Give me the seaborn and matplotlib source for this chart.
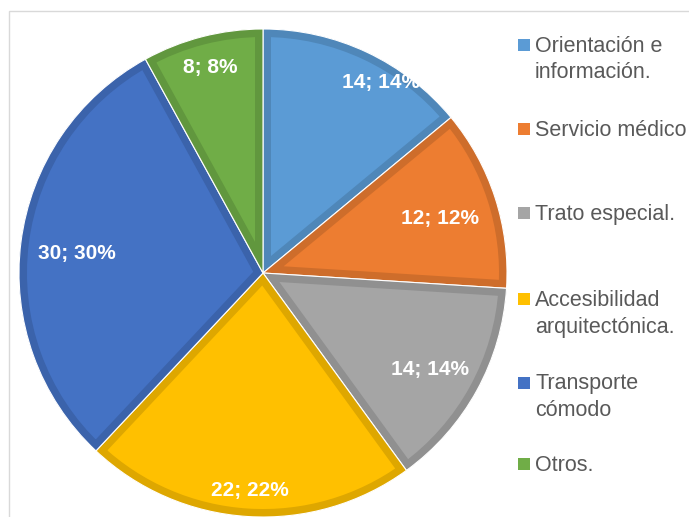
import numpy as np
import matplotlib
matplotlib.use("Agg")
import matplotlib.pyplot as plt
from matplotlib.patches import Wedge, Rectangle
from matplotlib.colors import to_rgb
import seaborn as sns

categorias = ["Orientación e\ninformación.", "Servicio médico", "Trato especial.",
              "Accesibilidad\narquitectónica.", "Transporte\ncómodo", "Otros."]
valores = [14, 12, 14, 22, 30, 8]
porcentajes = [14, 12, 14, 22, 30, 8]
colores = ["#5B9BD5", "#ED7D31", "#A5A5A5", "#FFC000", "#4472C4", "#70AD47"]

# etiquetas: fraccion del radio y desvio angular (grados) respecto al centro de la porcion
dist_etiqueta = [0.92, 0.76, 0.79, 0.895, 0.767, 0.87]
giro_etiqueta = [-6.5, -1.0, -1.3, 0.2, 1.1, 0.0]
# filas de la leyenda (px desde arriba, centro del cuadrado)
leyenda_y = [44.5, 129, 213, 299, 382.5, 464]
salto_linea = 26.6

sns.set_theme(style="white")
plt.rcParams["font.family"] = ["Liberation Sans", "DejaVu Sans"]

W, H = 689, 517
fig = plt.figure(figsize=(W / 100, H / 100), dpi=100)
fig.patch.set_facecolor("white")

# marco gris del area del grafico
fig.patches.append(Rectangle((8.5 / W, -0.1), 1, (H - 10.5) / H + 0.1, transform=fig.transFigure,
                             fill=False, edgecolor="#D9D9D9", linewidth=1))

cx, cy, R = 263, 273, 244
ax = fig.add_axes([(cx - R) / W, (H - cy - R) / H, 2 * R / W, 2 * R / H])
wedges, _ = ax.pie(valores, colors=colores, startangle=90, counterclock=False, radius=1,
                   wedgeprops=dict(edgecolor="none"))
ax.set_xlim(-1, 1)
ax.set_ylim(-1, 1)
ax.axis("off")

for w, col, v, p, d, g in zip(wedges, colores, valores, porcentajes, dist_etiqueta, giro_etiqueta):
    oscuro = tuple(c * 0.87 for c in to_rgb(col))
    borde = Wedge(w.center, w.r, w.theta1, w.theta2, facecolor="none",
                  edgecolor=oscuro, linewidth=11.5)
    ax.add_patch(borde)
    borde.set_clip_path(w)
    sep = Wedge(w.center, w.r, w.theta1, w.theta2, facecolor="none",
                edgecolor="white", linewidth=0.8)
    ax.add_patch(sep)
    ang = np.deg2rad((w.theta1 + w.theta2) / 2 + g)
    ax.text(d * np.cos(ang), d * np.sin(ang), f"{v}; {p}%", ha="center", va="center",
            color="white", fontweight="bold", fontsize=15, zorder=5)

# leyenda estilo Excel
for lab, col, yc in zip(categorias, colores, leyenda_y):
    fig.patches.append(Rectangle((518 / W, 1 - (yc + 6) / H), 12 / W, 12 / H,
                                 transform=fig.transFigure, facecolor=col, edgecolor="none"))
    for k, linea in enumerate(lab.split("\n")):
        fig.text(535 / W, 1 - (yc + 7 + k * salto_linea) / H, linea, ha="left", va="baseline",
                 color="#595959", fontsize=15.5)

fig.savefig("out.png", dpi=100)
